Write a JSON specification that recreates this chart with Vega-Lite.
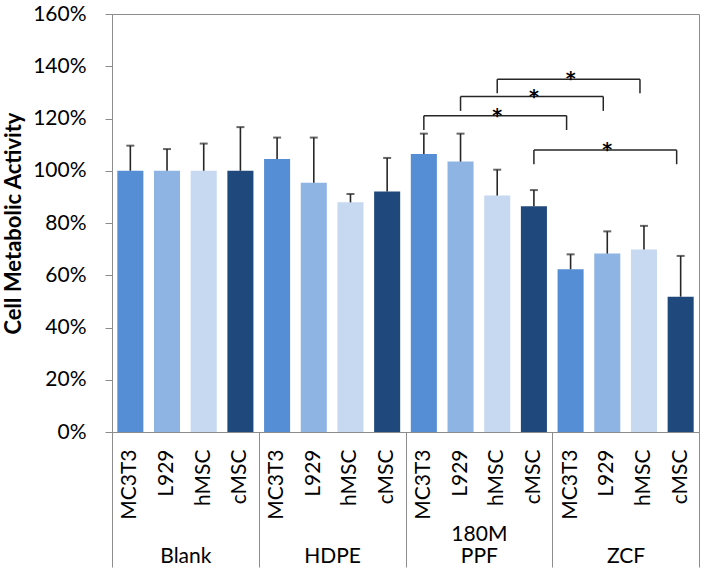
{
  "$schema": "https://vega.github.io/schema/vega-lite/v6.json",
  "autosize": {"type": "none"},
  "padding": {"left": 112, "top": 14, "right": 5, "bottom": 140},
  "width": 587,
  "height": 418,
  "config": {
    "font": "Lato",
    "view": {"stroke": "#8c8c8c", "strokeWidth": 1},
    "axis": {"labelColor": "#000000", "labelFontSize": 21, "grid": false, "domainColor": "#8c8c8c", "tickColor": "#8c8c8c"}
  },
  "datasets": {
    "bars": [
      {"group": "Blank", "cell": "MC3T3", "key": "Blank|MC3T3", "value": 100, "upper": 109.6},
      {"group": "Blank", "cell": "L929", "key": "Blank|L929", "value": 100, "upper": 108.3},
      {"group": "Blank", "cell": "hMSC", "key": "Blank|hMSC", "value": 100, "upper": 110.4},
      {"group": "Blank", "cell": "cMSC", "key": "Blank|cMSC", "value": 100, "upper": 116.7},
      {"group": "HDPE", "cell": "MC3T3", "key": "HDPE|MC3T3", "value": 104.5, "upper": 112.7},
      {"group": "HDPE", "cell": "L929", "key": "HDPE|L929", "value": 95.4, "upper": 112.7},
      {"group": "HDPE", "cell": "hMSC", "key": "HDPE|hMSC", "value": 87.9, "upper": 91.1},
      {"group": "HDPE", "cell": "cMSC", "key": "HDPE|cMSC", "value": 92.1, "upper": 104.9},
      {"group": "180M PPF", "cell": "MC3T3", "key": "180M PPF|MC3T3", "value": 106.4, "upper": 114.2},
      {"group": "180M PPF", "cell": "L929", "key": "180M PPF|L929", "value": 103.5, "upper": 114.2},
      {"group": "180M PPF", "cell": "hMSC", "key": "180M PPF|hMSC", "value": 90.5, "upper": 100.4},
      {"group": "180M PPF", "cell": "cMSC", "key": "180M PPF|cMSC", "value": 86.4, "upper": 92.6},
      {"group": "ZCF", "cell": "MC3T3", "key": "ZCF|MC3T3", "value": 62.3, "upper": 68.0},
      {"group": "ZCF", "cell": "L929", "key": "ZCF|L929", "value": 68.3, "upper": 76.8},
      {"group": "ZCF", "cell": "hMSC", "key": "ZCF|hMSC", "value": 69.9, "upper": 78.9},
      {"group": "ZCF", "cell": "cMSC", "key": "ZCF|cMSC", "value": 51.8, "upper": 67.4}
    ],
    "brackets": [
      {"a": "180M PPF|hMSC", "b": "ZCF|hMSC", "mid": "ZCF|MC3T3", "y": 135.0, "ylo": 129.7, "sig": "*"},
      {"a": "180M PPF|L929", "b": "ZCF|L929", "mid": "180M PPF|cMSC", "y": 128.4, "ylo": 122.9, "sig": "*"},
      {"a": "180M PPF|MC3T3", "b": "ZCF|MC3T3", "mid": "180M PPF|hMSC", "y": 121.1, "ylo": 115.6, "sig": "*"},
      {"a": "180M PPF|cMSC", "b": "ZCF|cMSC", "mid": "ZCF|L929", "y": 107.9, "ylo": 102.5, "sig": "*"}
    ],
    "groups": [
      {"group": "Blank"}, {"group": "HDPE"}, {"group": "180M PPF"}, {"group": "ZCF"}
    ]
  },
  "resolve": {"scale": {"x": "independent"}, "axis": {"x": "independent"}},
  "layer": [
    {
      "layer": [
        {
          "data": {"name": "bars"},
          "mark": {"type": "bar"},
          "encoding": {
            "x": {
              "field": "key", "type": "nominal", "title": null, "sort": null,
              "scale": {"domain": ["Blank|MC3T3","Blank|L929","Blank|hMSC","Blank|cMSC","HDPE|MC3T3","HDPE|L929","HDPE|hMSC","HDPE|cMSC","180M PPF|MC3T3","180M PPF|L929","180M PPF|hMSC","180M PPF|cMSC","ZCF|MC3T3","ZCF|L929","ZCF|hMSC","ZCF|cMSC"], "paddingInner": 0.29, "paddingOuter": 0.145},
              "axis": {"orient": "bottom", "labelExpr": "split(datum.value, '|')[1]", "labelAngle": 270, "labelAlign": "right", "labelBaseline": "middle", "ticks": false, "labelPadding": 17, "labelFontSize": 21}
            },
            "y": {
              "field": "value", "type": "quantitative", "title": "Cell Metabolic Activity",
              "scale": {"domain": [0, 160], "nice": false},
              "axis": {"values": [0, 20, 40, 60, 80, 100, 120, 140, 160], "labelExpr": "datum.value + '%'", "tickSize": 7, "labelPadding": 19, "titleFontSize": 22, "titleFontWeight": "bold", "titleColor": "#000000", "titlePadding": 7}
            },
            "color": {
              "field": "cell", "type": "nominal", "legend": null,
              "scale": {"domain": ["MC3T3", "L929", "hMSC", "cMSC"], "range": ["#558ED5", "#8EB4E3", "#C6D9F1", "#1F497D"]}
            }
          }
        },
        {
          "data": {"name": "bars"},
          "mark": {"type": "rule", "color": "#262626", "strokeWidth": 1.6},
          "encoding": {
            "x": {"field": "key", "type": "nominal", "title": null, "sort": null, "scale": {"domain": ["Blank|MC3T3","Blank|L929","Blank|hMSC","Blank|cMSC","HDPE|MC3T3","HDPE|L929","HDPE|hMSC","HDPE|cMSC","180M PPF|MC3T3","180M PPF|L929","180M PPF|hMSC","180M PPF|cMSC","ZCF|MC3T3","ZCF|L929","ZCF|hMSC","ZCF|cMSC"], "paddingInner": 0.29, "paddingOuter": 0.145}},
            "y": {"field": "value", "type": "quantitative", "title": "Cell Metabolic Activity"},
            "y2": {"field": "upper"}
          }
        },
        {
          "data": {"name": "bars"},
          "mark": {"type": "tick", "color": "#262626", "size": 8, "thickness": 2, "orient": "horizontal"},
          "encoding": {
            "x": {"field": "key", "type": "nominal", "title": null, "sort": null, "scale": {"domain": ["Blank|MC3T3","Blank|L929","Blank|hMSC","Blank|cMSC","HDPE|MC3T3","HDPE|L929","HDPE|hMSC","HDPE|cMSC","180M PPF|MC3T3","180M PPF|L929","180M PPF|hMSC","180M PPF|cMSC","ZCF|MC3T3","ZCF|L929","ZCF|hMSC","ZCF|cMSC"], "paddingInner": 0.29, "paddingOuter": 0.145}},
            "y": {"field": "upper", "type": "quantitative", "title": "Cell Metabolic Activity"}
          }
        },
        {
          "data": {"name": "brackets"},
          "mark": {"type": "rule", "color": "#262626", "strokeWidth": 1.5, "x2Offset": -4},
          "encoding": {
            "x": {"field": "a", "type": "nominal", "title": null, "sort": null, "scale": {"domain": ["Blank|MC3T3","Blank|L929","Blank|hMSC","Blank|cMSC","HDPE|MC3T3","HDPE|L929","HDPE|hMSC","HDPE|cMSC","180M PPF|MC3T3","180M PPF|L929","180M PPF|hMSC","180M PPF|cMSC","ZCF|MC3T3","ZCF|L929","ZCF|hMSC","ZCF|cMSC"], "paddingInner": 0.29, "paddingOuter": 0.145}},
            "x2": {"field": "b"},
            "y": {"field": "y", "type": "quantitative", "title": "Cell Metabolic Activity"}
          }
        },
        {
          "data": {"name": "brackets"},
          "mark": {"type": "rule", "color": "#262626", "strokeWidth": 1.5},
          "encoding": {
            "x": {"field": "a", "type": "nominal", "title": null, "sort": null, "scale": {"domain": ["Blank|MC3T3","Blank|L929","Blank|hMSC","Blank|cMSC","HDPE|MC3T3","HDPE|L929","HDPE|hMSC","HDPE|cMSC","180M PPF|MC3T3","180M PPF|L929","180M PPF|hMSC","180M PPF|cMSC","ZCF|MC3T3","ZCF|L929","ZCF|hMSC","ZCF|cMSC"], "paddingInner": 0.29, "paddingOuter": 0.145}},
            "y": {"field": "ylo", "type": "quantitative", "title": "Cell Metabolic Activity"},
            "y2": {"field": "y"}
          }
        },
        {
          "data": {"name": "brackets"},
          "mark": {"type": "rule", "color": "#262626", "strokeWidth": 1.5, "xOffset": -4},
          "encoding": {
            "x": {"field": "b", "type": "nominal", "title": null, "sort": null, "scale": {"domain": ["Blank|MC3T3","Blank|L929","Blank|hMSC","Blank|cMSC","HDPE|MC3T3","HDPE|L929","HDPE|hMSC","HDPE|cMSC","180M PPF|MC3T3","180M PPF|L929","180M PPF|hMSC","180M PPF|cMSC","ZCF|MC3T3","ZCF|L929","ZCF|hMSC","ZCF|cMSC"], "paddingInner": 0.29, "paddingOuter": 0.145}},
            "y": {"field": "ylo", "type": "quantitative", "title": "Cell Metabolic Activity"},
            "y2": {"field": "y"}
          }
        },
        {
          "data": {"name": "brackets"},
          "mark": {"type": "text", "color": "#000000", "font": "DejaVu Sans", "fontWeight": "bold", "fontSize": 19, "baseline": "alphabetic", "align": "center", "dy": 6},
          "encoding": {
            "x": {"field": "mid", "type": "nominal", "title": null, "sort": null, "scale": {"domain": ["Blank|MC3T3","Blank|L929","Blank|hMSC","Blank|cMSC","HDPE|MC3T3","HDPE|L929","HDPE|hMSC","HDPE|cMSC","180M PPF|MC3T3","180M PPF|L929","180M PPF|hMSC","180M PPF|cMSC","ZCF|MC3T3","ZCF|L929","ZCF|hMSC","ZCF|cMSC"], "paddingInner": 0.29, "paddingOuter": 0.145}},
            "y": {"field": "y", "type": "quantitative", "title": "Cell Metabolic Activity"},
            "text": {"field": "sig"}
          }
        }
      ]
    },
    {
      "data": {"name": "groups"},
      "mark": {"type": "rule", "opacity": 0},
      "encoding": {
        "x": {
          "field": "group", "type": "nominal", "title": null, "sort": null,
          "scale": {"domain": ["Blank", "HDPE", "180M PPF", "ZCF"], "paddingInner": 0, "paddingOuter": 0},
          "axis": {"orient": "bottom", "domain": false, "ticks": true, "tickBand": "extent", "tickSize": 135, "labelAngle": 0, "labelAlign": "center", "labelBaseline": "alphabetic", "labelPadding": -27, "labelLineHeight": 22, "labelExpr": "datum.value ? (indexof(datum.value, ' ') > 0 ? split(datum.value, ' ') : ['', datum.value]) : ''", "labelFontSize": 21}
        }
      }
    }
  ]
}
